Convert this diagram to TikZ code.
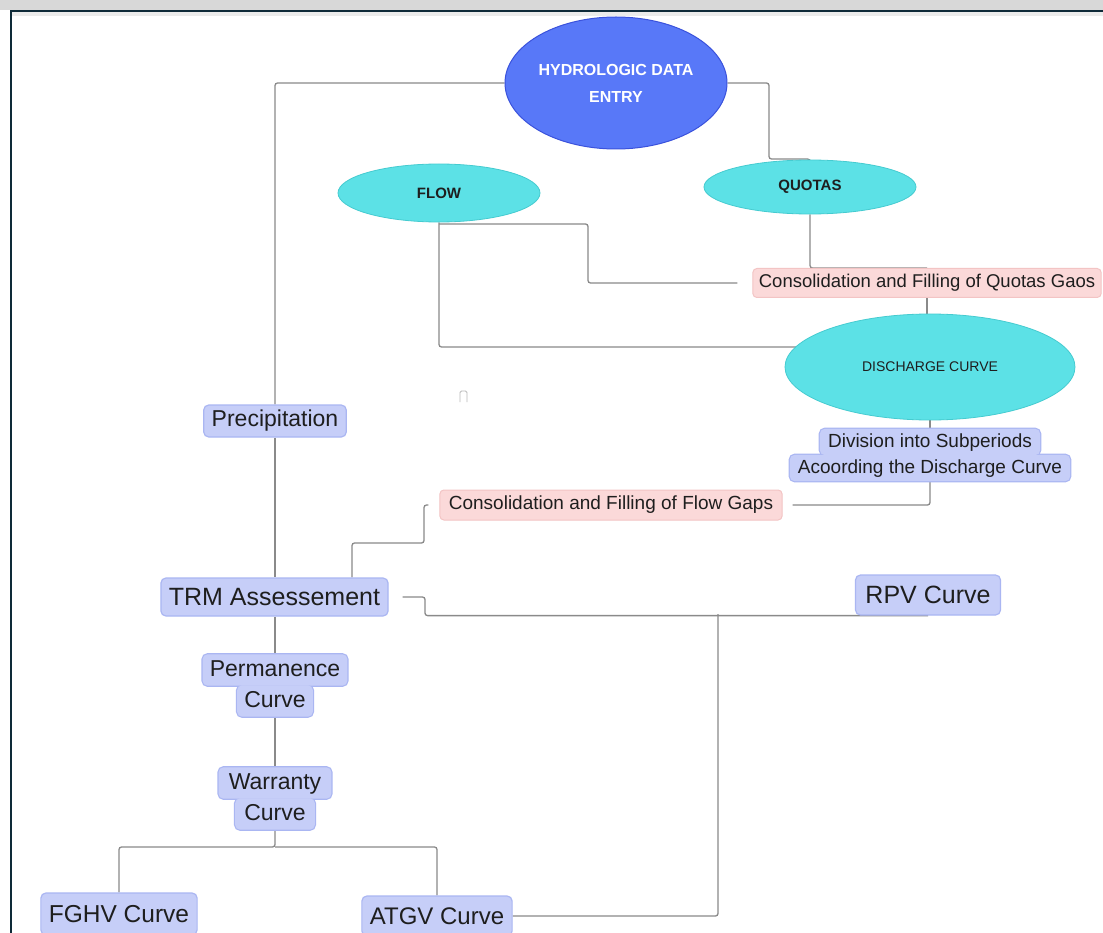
\documentclass[tikz,border=0pt]{standalone}
\usepackage{fontspec}
\setmainfont{Liberation Sans}
\usetikzlibrary{shapes.geometric,backgrounds}
\definecolor{hdeblue}{HTML}{5878F8}
\definecolor{hdeborder}{HTML}{3A52DC}
\definecolor{cyanfill}{HTML}{5CE1E6}
\definecolor{cyanborder}{HTML}{45CBD0}
\definecolor{boxfill}{HTML}{C6CEF8}
\definecolor{boxborder}{HTML}{AAB6F2}
\definecolor{pinkfill}{HTML}{FBD9D9}
\definecolor{pinkborder}{HTML}{F3C4C4}
\definecolor{linegray}{HTML}{8A8A8A}
\definecolor{txtdark}{HTML}{1E1E1E}
\definecolor{framedark}{HTML}{0E2A38}
\definecolor{bandgray}{HTML}{D8D8D8}
\newcommand\myfs[1]{\fontsize{#1}{#1}\selectfont}
\tikzset{
  conn/.style={draw=linegray, line width=1.3pt, rounded corners=2.5pt},
  bigell/.style={ellipse, fill=hdeblue, draw=hdeborder, line width=1pt, text=white, align=center, inner sep=0pt},
  cyanell/.style={ellipse, fill=cyanfill, draw=cyanborder, line width=0.8pt, text=txtdark, inner sep=0pt},
  bluebox/.style={rectangle, rounded corners=5pt, fill=boxfill, draw=boxborder, line width=1.2pt, text=txtdark, inner ysep=0pt},
  pinkbox/.style={rectangle, rounded corners=4pt, fill=pinkfill, draw=pinkborder, line width=1pt, text=txtdark, inner ysep=0pt},
  linebox/.style={rectangle, text=txtdark, inner ysep=4.5pt, inner xsep=7pt, text height=17pt, text depth=5pt},
}
\begin{document}
\begin{tikzpicture}[x=1pt,y=-1pt]
\useasboundingbox (0,0) rectangle (1103,933);

% nodes
\node[bigell, minimum width=222pt, minimum height=132pt, font=\fontsize{16}{27}\selectfont\bfseries] (hde) at (616,83) {HYDROLOGIC DATA\\ENTRY};
\node[cyanell, minimum width=202pt, minimum height=58pt, font=\myfs{15}\bfseries] (flow) at (439,193) {FLOW};
\node[cyanell, minimum width=212pt, minimum height=54pt, font=\myfs{15}\bfseries] (quotas) at (810,187) {QUOTAS};
\node[cyanell, minimum width=290pt, minimum height=106pt, font=\myfs{14}] (dis) at (930,367) {DISCHARGE CURVE};
\node[pinkbox, font=\myfs{18.5}, minimum height=29pt, inner xsep=6pt] (qgaps) at (927,283) {Consolidation and Filling of Quotas Gaos};
\node[pinkbox, font=\myfs{19}, minimum height=30pt, inner xsep=9pt] (fgaps) at (611,505) {Consolidation and Filling of Flow Gaps};
\node[linebox, font=\myfs{19}, text height=14pt, text depth=4pt, inner ysep=4pt, inner xsep=8pt] (div1) at (930,442) {Division into Subperiods};
\node[linebox, font=\myfs{19}, text height=14pt, text depth=4pt, inner ysep=4pt, inner xsep=8pt] (div2) at (930,468) {Acoording the Discharge Curve};
\node[bluebox, font=\myfs{23}, minimum height=32pt, inner xsep=8pt] (prec) at (275,421) {Precipitation};
\node[bluebox, font=\myfs{25}, minimum height=38pt, inner xsep=8pt] (trm) at (274.5,597) {TRM Assessement};
\node[bluebox, font=\myfs{25}, minimum height=40pt, inner xsep=10pt] (rpv) at (928,595) {RPV Curve};
\node[linebox, font=\myfs{23}] (perm1) at (275,670) {Permanence};
\node[linebox, font=\myfs{23}] (perm2) at (275,701) {Curve};
\node[linebox, font=\myfs{23}, inner xsep=10pt] (war1) at (275,783) {Warranty};
\node[linebox, font=\myfs{23}, inner xsep=9pt] (war2) at (275,814) {Curve};
\node[bluebox, font=\myfs{24.5}, minimum height=42pt, inner xsep=8pt] (fghv) at (119,914) {FGHV Curve};
\node[bluebox, font=\myfs{24}, minimum height=40pt, inner xsep=8pt] (atgv) at (437,916) {ATGV Curve};

% bend coordinates
\coordinate (q1) at (769,159);
\coordinate (f1) at (588,224);
\coordinate (fd) at (439,347);
\coordinate (fg1) at (424,543);
\coordinate (fg2) at (352,543);
\coordinate (tr1) at (425,597);
\coordinate (tr2) at (718,614);
\coordinate (wj) at (275,847);

\begin{pgfonlayer}{background}
\fill[white] (0,0) rectangle (1103,933);
\draw[conn] (hde.west) -| (prec.north);
\draw[conn] (prec.south) -- (prec.south |- trm.north);
\draw[conn] (prec.south |- trm.south) -- (perm1.north);
\draw[conn] (perm2.south) -- (war1.north);
\draw[conn] (war2.south) -- (wj) -| (fghv.north);
\draw[conn] (wj) -| (atgv.north);
\draw[conn] (hde.east) -| (q1) -| (quotas.north);
\draw[conn] (quotas.south) |- (qgaps.north);
\draw[conn] (qgaps.south) -- (qgaps.south |- dis.north);
\draw[conn, shorten >=15pt] (flow.center |- f1) -- (f1) |- (qgaps.west);
\draw[conn] (flow.south) -- (fd) -- (dis.center |- fd);
\draw[conn] (dis.south) -- (div1.north);
\draw[conn, shorten >=10pt] (div2.south) |- (fgaps.east);
\draw[conn, shorten <=11pt] (fgaps.west) -| (fg1) -- (fg2) -- (fg2 |- trm.north);
\draw[conn, shorten <=14pt] (trm.east) -- (tr1) |- (rpv.south);
\draw[conn] (atgv.east) -| (tr2);
% stepped label boxes
\foreach \n in {div1,div2,perm1,perm2,war1,war2}
  \path[draw=boxborder, line width=2.4pt, fill=boxfill, rounded corners=5pt] (\n.south west) rectangle (\n.north east);
\foreach \n in {div1,div2,perm1,perm2,war1,war2}
  \path[fill=boxfill, rounded corners=5pt] (\n.south west) rectangle (\n.north east);
\end{pgfonlayer}

% small mark
\draw[gray!55, line width=0.9pt, rounded corners=1.5pt] (460,402) -- (460,391) -- (467,391) -- (467,402);

% window frame
\fill[bandgray] (0,0) rectangle (1103,10);
\fill[black!8] (12,12.5) rectangle (1103,16);
\draw[framedark, line width=2.2pt] (11,933) -- (11,11) -- (1103,11);
\end{tikzpicture}
\end{document}
